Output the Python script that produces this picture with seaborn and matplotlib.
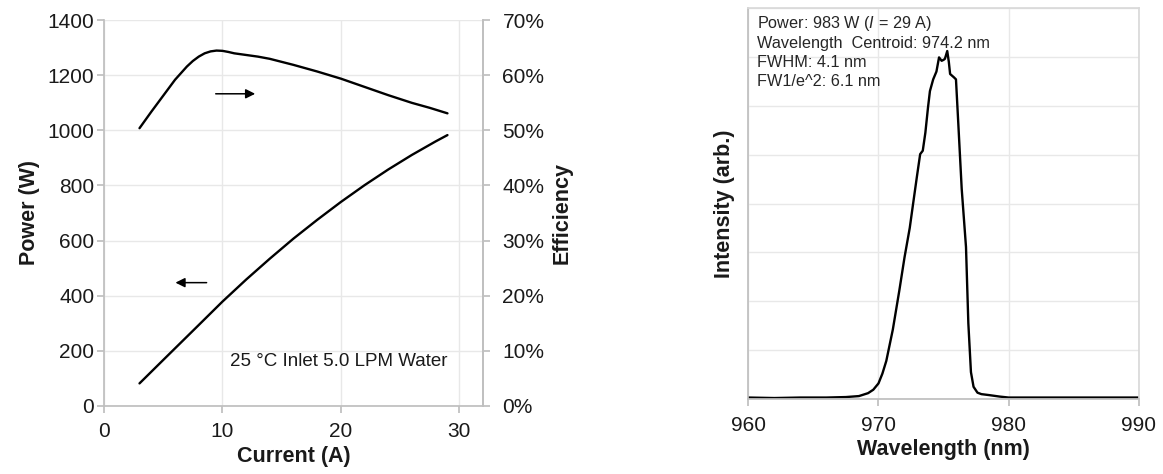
import numpy as np
import pandas as pd
import seaborn as sns
import matplotlib.pyplot as plt
from matplotlib.ticker import PercentFormatter, MultipleLocator, NullFormatter

# left panel: power and efficiency vs current
current_p = [3, 5, 8, 10, 12, 14, 16, 18, 20, 22, 24, 26, 28, 29]
power_w = [81, 166, 293, 378, 458, 534, 607, 675, 740, 801, 858, 911, 960, 983]

current_e = [3, 4, 5, 6, 7, 7.5, 8, 8.5, 9, 9.5, 10, 10.5, 11, 12, 13, 14, 16, 18,
             20, 22, 24, 26, 27.5, 29]
eff_pct = [50.4, 53.4, 56.3, 59.2, 61.6, 62.6, 63.4, 64.0, 64.35, 64.5, 64.45, 64.25,
           64.0, 63.7, 63.4, 63.0, 61.9, 60.7, 59.4, 57.9, 56.4, 55.0, 54.1, 53.1]

# right panel: spectrum
wavelength = [960, 962, 964, 966, 967.5, 968.5, 969.2, 969.6, 970.0, 970.3, 970.6,
              971.1, 971.6, 972.0, 972.4, 972.65, 972.95, 973.2, 973.4, 973.6, 973.8,
              973.95, 974.2, 974.45, 974.65, 974.85, 975.0, 975.1, 975.28, 975.4,
              975.5, 975.8, 975.95, 976.13, 976.39, 976.72, 976.9, 977.1, 977.3,
              977.6, 977.9, 978.5, 979.3, 980, 983, 986, 990]
intensity = [0.03, 0.02, 0.03, 0.03, 0.04, 0.06, 0.12, 0.19, 0.32, 0.52, 0.78,
             1.42, 2.22, 2.90, 3.50, 3.98, 4.55, 5.01, 5.08, 5.45, 5.96,
             6.30, 6.54, 6.70, 6.99, 6.92, 6.94, 6.96, 7.12, 6.90,
             6.65, 6.58, 6.54, 5.63, 4.30, 3.11, 1.55, 0.55, 0.25,
             0.13, 0.10, 0.08, 0.05, 0.03, 0.03, 0.03, 0.03]

info_lines = ["Power: 983 W ($\\mathit{I}$ = 29 A)",
              "Wavelength  Centroid: 974.2 nm",
              "FWHM: 4.1 nm",
              "FW1/e^2: 6.1 nm"]

sns.set_theme(style="whitegrid")
plt.rcParams['font.family'] = ['Liberation Sans', 'DejaVu Sans']
plt.rcParams['mathtext.fontset'] = 'custom'
plt.rcParams['mathtext.rm'] = 'Liberation Sans'
plt.rcParams['mathtext.it'] = 'Liberation Sans:italic'

grid_c = '#e8e8e8'
spine_c = '#bfbfbf'
txt_c = '#1a1a1a'

fig = plt.figure(figsize=(11.63, 4.74), dpi=100)

ax1 = fig.add_axes([0.0894, 0.1441, 0.3259, 0.8131])
sns.lineplot(x=current_p, y=power_w, ax=ax1, color='black', lw=1.7)
ax1.set_xlim(0, 32)
ax1.set_ylim(0, 1400)
ax1.set_xticks([0, 10, 20, 30])
ax1.yaxis.set_major_locator(MultipleLocator(200))
ax1.grid(True, color=grid_c, lw=1)
ax1.set_xlabel("Current (A)", fontsize=15.5, fontweight='bold', color=txt_c, labelpad=3)
ax1.set_ylabel("Power (W)", fontsize=15.5, fontweight='bold', color=txt_c, labelpad=5)
ax1.tick_params(axis='both', labelsize=15, colors=txt_c, length=5, color=spine_c,
                bottom=True, left=True)
ax1.tick_params(axis='x', pad=7)
ax1.tick_params(axis='y', pad=2)
ax1.spines['top'].set_visible(False)
for s in ['left', 'bottom', 'right']:
    ax1.spines[s].set_color(spine_c)

ax1.annotate('', xy=(13.0, 1133), xytext=(9.2, 1133),
             arrowprops=dict(arrowstyle='-|>', color='black', lw=1.1, mutation_scale=14))
ax1.annotate('', xy=(5.8, 447), xytext=(8.9, 447),
             arrowprops=dict(arrowstyle='-|>', color='black', lw=1.1, mutation_scale=14))
ax1.text(10.6, 160, "25 \u00b0C Inlet 5.0 LPM Water", fontsize=13.5, va='center', color=txt_c)

ax2 = ax1.twinx()
eff_frac = np.array(eff_pct) / 100
sns.lineplot(x=current_e, y=eff_frac, ax=ax2, color='black', lw=1.7)
ax2.set_ylim(0, 0.7)
ax2.yaxis.set_major_locator(MultipleLocator(0.1))
ax2.yaxis.set_major_formatter(PercentFormatter(1.0, decimals=0))
ax2.grid(False)
ax2.set_ylabel("Efficiency", fontsize=15.5, fontweight='bold', color=txt_c, labelpad=5)
ax2.tick_params(axis='y', labelsize=15, colors=txt_c, length=5, color=spine_c,
                right=True, pad=9)
for s in ['top', 'left', 'bottom']:
    ax2.spines[s].set_visible(False)
ax2.spines['right'].set_color(spine_c)

ax3 = fig.add_axes([0.6434, 0.1582, 0.3359, 0.8249])
spec = pd.DataFrame({'wl': wavelength, 'inten': intensity})
sns.lineplot(data=spec, x='wl', y='inten', ax=ax3, color='black', lw=1.7)
ax3.set_xlim(960, 990)
ax3.set_ylim(0, 8)
ax3.set_xticks([960, 970, 980, 990])
ax3.set_yticks(range(0, 9))
ax3.yaxis.set_major_formatter(NullFormatter())
ax3.grid(True, color=grid_c, lw=1)
ax3.set_xlabel("Wavelength (nm)", fontsize=15.5, fontweight='bold', color=txt_c, labelpad=3)
ax3.set_ylabel("Intensity (arb.)", fontsize=15.5, fontweight='bold', color=txt_c, labelpad=0)
ax3.tick_params(axis='x', labelsize=15, colors=txt_c, length=5, color=spine_c,
                bottom=True, pad=7)
ax3.tick_params(axis='y', left=False)
for s in ['left', 'bottom']:
    ax3.spines[s].set_color(spine_c)
for s in ['top', 'right']:
    ax3.spines[s].set_color('#d9d9d9')
ax3.text(0.022, 0.985, "\n".join(info_lines), transform=ax3.transAxes, va='top',
         ha='left', fontsize=11.7, color='#262626', linespacing=1.3)

fig.savefig("out.png", dpi=100)
